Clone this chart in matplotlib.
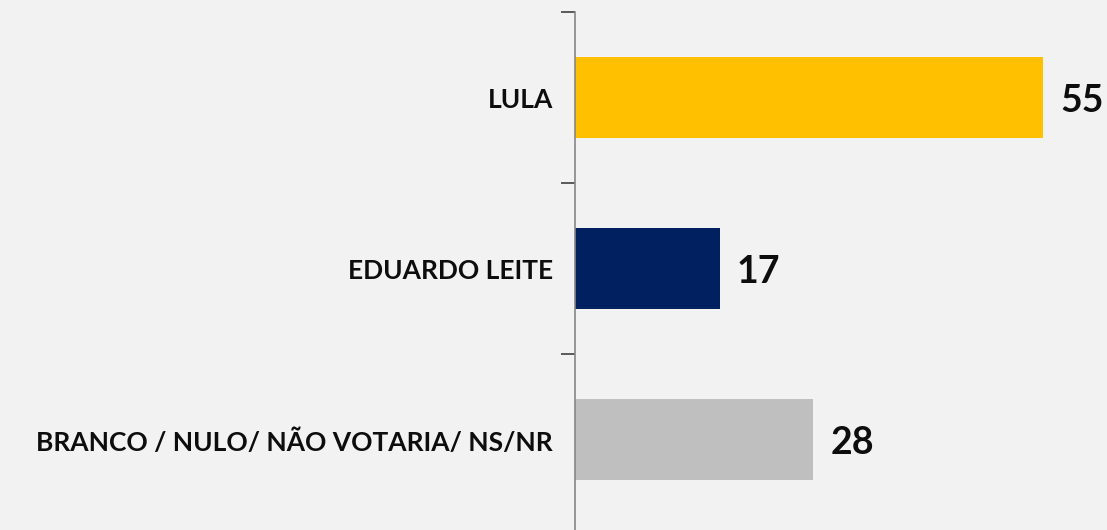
import matplotlib.pyplot as plt

categories = ["LULA", "EDUARDO LEITE", "BRANCO / NULO/ NÃO VOTARIA/ NS/NR"]
values = [55, 17, 28]
colors = ["#FFC000", "#002060", "#BFBFBF"]

bg = "#F2F2F2"
fig = plt.figure(figsize=(11.07, 5.30), dpi=100, facecolor=bg)
# axes runs a few pixels past the bottom edge, as in the original
ax = fig.add_axes([0.5194, -0.0075, 0.4616, 0.985], facecolor=bg)

pos = range(len(categories))
ax.barh(pos, values, height=0.475, color=colors)
ax.set_ylim(2.55, -0.5)
ax.set_xlim(0, 60)

for p, v in zip(pos, values):
    ax.text(v + 2.0, p + 0.02, str(v), va="center", ha="left",
            fontsize=27, fontweight="bold", family="Lato", color="#0D0D0D")

ax.set_yticks(list(pos))
ax.set_yticklabels(categories, fontsize=19, fontweight="bold", family="Lato", color="#0D0D0D")
ax.tick_params(axis="y", which="major", length=0, pad=16)
ax.set_yticks([-0.5, 0.5, 1.5], minor=True)
ax.tick_params(axis="y", which="minor", length=10, width=1.2, color="#404040")
ax.set_xticks([])

for s in ["top", "right", "bottom"]:
    ax.spines[s].set_visible(False)
ax.spines["left"].set_color("#868686")
ax.spines["left"].set_linewidth(1.2)

fig.savefig("out.png", facecolor=bg)
